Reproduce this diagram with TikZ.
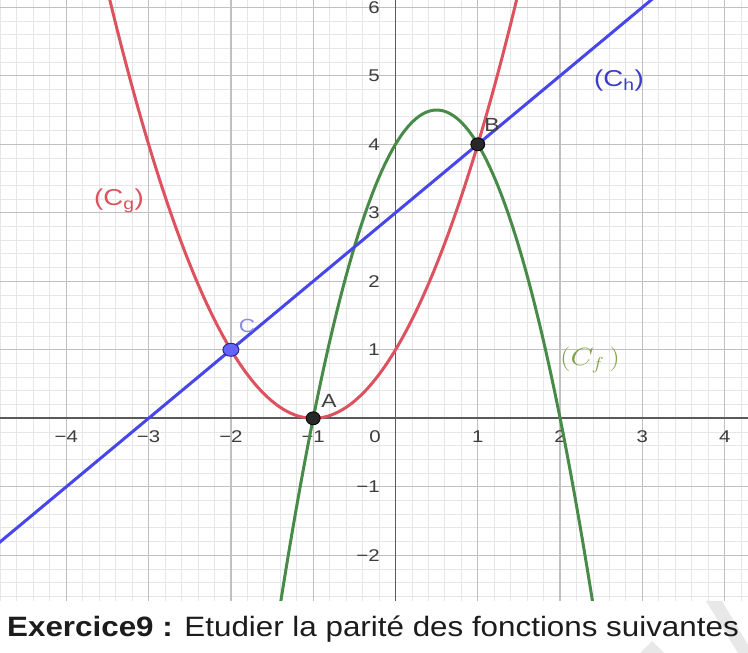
\documentclass[tikz,border=0pt]{standalone}
\usepackage{fontspec}
\setmainfont{Liberation Sans}
\setsansfont{Liberation Sans}
\usetikzlibrary{shapes.geometric}
\newcommand\hstretch[1]{\scalebox{1.2}[1.0]{#1}}
\definecolor{gridminor}{RGB}{230,230,230}
\definecolor{gridmajor}{RGB}{192,192,192}
\definecolor{axisgray}{RGB}{90,90,90}
\definecolor{cred}{RGB}{220,82,95}
\definecolor{cgreen}{RGB}{72,138,72}
\definecolor{cblue}{RGB}{70,70,235}
\definecolor{lblgreen}{RGB}{130,162,72}
\definecolor{lblblue}{RGB}{60,60,200}
\definecolor{lblgray}{RGB}{64,64,64}
\definecolor{lblC}{RGB}{140,140,230}
\definecolor{ticktext}{RGB}{60,60,60}
\definecolor{ptdark}{RGB}{40,40,40}
\definecolor{ptblue}{RGB}{100,100,250}
\definecolor{ptblueedge}{RGB}{40,40,140}
\definecolor{textdark}{RGB}{28,28,28}
\definecolor{wmark}{RGB}{232,232,232}
\begin{document}
\begin{tikzpicture}[x=1pt,y=1pt,
  minorgrid/.style={draw=gridminor, line width=0.9pt},
  majorgrid/.style={draw=gridmajor, line width=1.3pt},
  axisline/.style={draw=axisgray, line width=1.6pt},
  curve/.style={line width=3pt, line cap=round},
  ticklbl/.style={text=ticktext, font=\fontsize{17}{17}\selectfont, inner sep=0pt},
  ptlbl/.style={font=\fontsize{19}{19}\selectfont, inner sep=0pt},
  curvelbl/.style={font=\fontsize{23}{23}\selectfont, inner sep=0pt},
  blackpt/.style={ellipse, fill=ptdark, draw=black, line width=0.8pt, minimum width=14pt, minimum height=13pt, inner sep=0pt},
  bluept/.style={ellipse, fill=ptblue, draw=ptblueedge, line width=1pt, minimum width=16pt, minimum height=13pt, inner sep=0pt},
]
\useasboundingbox (0,0) rectangle (748,653);
\fill[white] (0,0) rectangle (748,653);
% watermark
\fill[wmark] (706,52) -- (722,52) -- (748,8) -- (748,0) -- (738,0) -- cycle;
\fill[wmark] (640,0) -- (652,12) -- (664,0) -- cycle;
\begin{scope}[shift={(395.5,234.7)}, x=82.3pt, y=68.5pt]
  \begin{scope}
    \clip (-4.806,-2.653) rectangle (4.283,6.107);
    \foreach \i in {-24,...,21} \draw[minorgrid] (\i/5,-2.7) -- (\i/5,6.2);
    \foreach \j in {-13,...,30} \draw[minorgrid] (-4.9,\j/5) -- (4.3,\j/5);
    \foreach \i in {-4,...,4} \draw[majorgrid] (\i,-2.7) -- (\i,6.2);
    \foreach \j in {-2,...,6} \draw[majorgrid] (-4.9,\j) -- (4.3,\j);
    \draw[axisline] (-4.81,0) -- (4.29,0);
    \draw[axisline] (0,-2.66) -- (0,6.11);
    % tick labels
    \foreach \i in {-4,-3,-2,-1} \node[ticklbl] (tx\i) at (\i,-0.27) {\hstretch{−\the\numexpr-\i\relax}};
    \foreach \i in {1,2,3,4} \node[ticklbl] (tx\i) at (\i,-0.27) {\hstretch{\i}};
    \node[ticklbl] (tx0) at (-0.25,-0.27) {\hstretch{0}};
    \foreach \j in {1,...,6} \node[ticklbl, anchor=east] (ty\j) at (-0.19,\j) {\hstretch{\j}};
    \foreach \j in {-1,-2} \node[ticklbl, anchor=east] (ty\j) at (-0.19,\j) {\hstretch{−\the\numexpr-\j\relax}};
    % curves
    \draw[curve, cgreen] plot[domain=-1.5:2.5, samples=200] (\x,{-2*\x*\x+2*\x+4});
    \draw[curve, cred] plot[domain=-3.6:1.6, samples=200] (\x,{(\x+1)*(\x+1)});
    \draw[curve, cblue] plot[domain=-4.9:3.3, samples=2] (\x,{\x+3});
  \end{scope}
  \node[blackpt] (A) at (-1,0) {};
  \node[blackpt] (B) at (1,4) {};
  \node[bluept] (C) at (-2,1) {};
\end{scope}
% point labels
\node[ptlbl, text=lblgray] (lA) at (329,252) {\hstretch{A}};
\node[ptlbl, text=lblgray] (lB) at (492,528) {\hstretch{B}};
\node[ptlbl, text=lblC] (lC) at (247,327) {\hstretch{C}};
% curve labels
\node[curvelbl, text=cred] (lg) at (119,452) {\hstretch{(C\textsubscript{g})}};
\node[curvelbl, text=lblblue] (lh) at (619,572) {\hstretch{(C\textsubscript{h})}};
\node[inner sep=0pt, font=\fontsize{24}{24}\selectfont, text=lblgreen] (lf) at (590,293) {\hstretch{$(C_f\,)$}};
% title
\node[anchor=base west, inner sep=0pt, font=\fontsize{28}{28}\selectfont, text=textdark] (title) at (7,16.3) {\scalebox{1.12}[1.0]{\textbf{Exercice9 :} Etudier la parité des fonctions suivantes}};
\end{tikzpicture}
\end{document}
